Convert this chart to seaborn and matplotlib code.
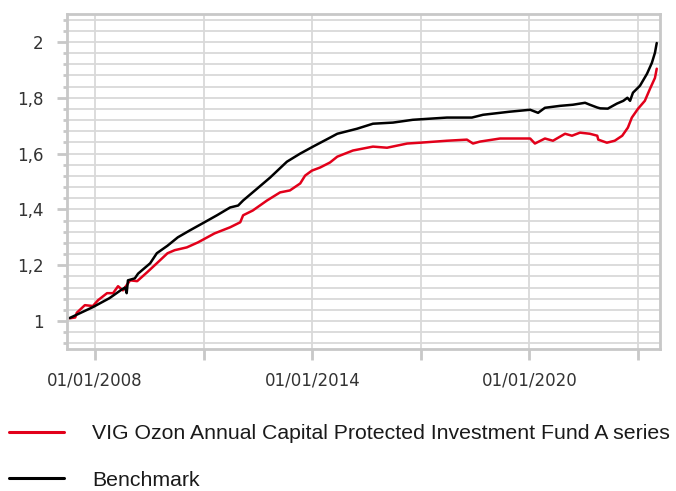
import numpy as np
import pandas as pd
import matplotlib
matplotlib.use("Agg")
import matplotlib.pyplot as plt
import matplotlib.dates as mdates
from matplotlib.ticker import MultipleLocator, FuncFormatter, FixedLocator
import seaborn as sns

# values
fund_dates = ["2007-04-20", "2007-06-15", "2007-07-01", "2007-09-20", "2007-12-10",
              "2008-02-01", "2008-05-01", "2008-07-01", "2008-08-20", "2008-10-08",
              "2008-12-20", "2009-03-01", "2009-06-10", "2009-09-15", "2010-01-01",
              "2010-03-15", "2010-07-15", "2010-11-05", "2011-04-20", "2011-09-25",
              "2012-01-05", "2012-02-03", "2012-05-10", "2012-10-01", "2013-02-10",
              "2013-05-20", "2013-09-01", "2013-10-20", "2013-12-28", "2014-03-20",
              "2014-06-28", "2014-09-10", "2015-02-15", "2015-09-05", "2016-01-25",
              "2016-08-15", "2016-12-25", "2017-09-20", "2018-04-10", "2018-06-10",
              "2018-08-20", "2019-03-10", "2019-06-15", "2020-01-08", "2020-02-25",
              "2020-06-05", "2020-08-25", "2020-12-25", "2021-03-05", "2021-05-25",
              "2021-09-01", "2021-11-15", "2021-11-25", "2022-02-20", "2022-05-10",
              "2022-07-25", "2022-09-20", "2022-10-30", "2023-01-01", "2023-03-10",
              "2023-05-01", "2023-06-20", "2023-07-08"]
fund_values = [1.010, 1.013, 1.030, 1.057, 1.054,
               1.075, 1.100, 1.100, 1.125, 1.110,
               1.146, 1.143, 1.175, 1.207, 1.243,
               1.254, 1.264, 1.282, 1.314, 1.336,
               1.354, 1.379, 1.396, 1.432, 1.461,
               1.468, 1.493, 1.521, 1.539, 1.550,
               1.568, 1.589, 1.611, 1.625, 1.621,
               1.636, 1.639, 1.646, 1.650, 1.636,
               1.643, 1.654, 1.654, 1.654, 1.636,
               1.654, 1.646, 1.671, 1.664, 1.675,
               1.671, 1.664, 1.650, 1.639, 1.646,
               1.664, 1.693, 1.729, 1.761, 1.789,
               1.832, 1.871, 1.904]

bench_dates = ["2007-04-20", "2007-12-10", "2008-05-25", "2008-09-30", "2008-10-30",
               "2008-11-15", "2008-11-28", "2009-02-05", "2009-03-10", "2009-07-10",
               "2009-09-15", "2010-01-01", "2010-04-15", "2010-08-15", "2010-12-20",
               "2011-05-15", "2011-09-25", "2011-12-15", "2012-02-03", "2012-06-25",
               "2012-11-01", "2013-04-20", "2013-09-01", "2014-01-08", "2014-06-28",
               "2014-09-10", "2015-03-28", "2015-09-05", "2016-03-25", "2016-10-10",
               "2017-09-20", "2018-05-30", "2018-09-20", "2019-03-10", "2019-06-15",
               "2020-01-08", "2020-03-28", "2020-06-05", "2020-11-05", "2021-03-15",
               "2021-07-15", "2021-09-01", "2021-11-15", "2021-12-15", "2022-03-01",
               "2022-06-01", "2022-08-05", "2022-09-15", "2022-10-12", "2022-11-10",
               "2023-01-20", "2023-04-01", "2023-05-20", "2023-06-20", "2023-07-08"]
bench_values = [1.011, 1.050, 1.082, 1.114, 1.120,
                1.100, 1.146, 1.153, 1.170, 1.207,
                1.243, 1.270, 1.300, 1.325, 1.350,
                1.379, 1.407, 1.414, 1.432, 1.475,
                1.514, 1.571, 1.600, 1.625, 1.657,
                1.671, 1.689, 1.707, 1.711, 1.721,
                1.729, 1.729, 1.739, 1.746, 1.750,
                1.757, 1.746, 1.764, 1.771, 1.775,
                1.782, 1.775, 1.765, 1.762, 1.761,
                1.779, 1.789, 1.800, 1.789, 1.818,
                1.843, 1.886, 1.925, 1.961, 1.996]

# x gridlines every 3 years, labels only on every other one
tick_dates = ["2008-01-01", "2011-01-01", "2014-01-01", "2017-01-01", "2020-01-01", "2023-01-01"]
tick_labels = ["01/01/2008", "", "01/01/2014", "", "01/01/2020", ""]

fund_name = "VIG Ozon Annual Capital Protected Investment Fund A series"
bench_name = "Benchmark"

df = pd.concat([
    pd.DataFrame({"date": pd.to_datetime(fund_dates), "value": fund_values, "series": fund_name}),
    pd.DataFrame({"date": pd.to_datetime(bench_dates), "value": bench_values, "series": bench_name}),
], ignore_index=True)

sns.set_style("white")
plt.rcParams["font.family"] = ["DejaVu Sans"]
grid_col = "#d9d9d9"
frame_col = "#c8c8c8"
text_col = "#333333"

fig = plt.figure(figsize=(6.76, 4.91), dpi=100)
ax = fig.add_axes([67 / 676, 1 - 349 / 491, (660 - 67) / 676, (349 - 14) / 491])

sns.lineplot(data=df, x="date", y="value", hue="series",
             palette={fund_name: "#e2001a", bench_name: "#000000"},
             hue_order=[fund_name, bench_name],
             linewidth=1.8, ax=ax, legend=False, estimator=None, sort=False)

ax.set_xlim(pd.Timestamp("2007-03-24"), pd.Timestamp("2023-08-10"))
ax.set_ylim(0.9, 2.1)
ax.set_xlabel("")
ax.set_ylabel("")

ax.xaxis.set_major_locator(FixedLocator(mdates.date2num(pd.to_datetime(tick_dates))))
ax.set_xticklabels(tick_labels)
ax.yaxis.set_major_locator(MultipleLocator(0.2))
ax.yaxis.set_minor_locator(MultipleLocator(0.04))
ax.yaxis.set_major_formatter(FuncFormatter(lambda v, p: f"{v:g}".replace(".", ",")))

ax.grid(True, axis="x", which="major", color=grid_col, linewidth=1.3)
ax.grid(True, axis="y", which="both", color=grid_col, linewidth=1.3)
ax.set_axisbelow(True)

for s in ax.spines.values():
    s.set_color(frame_col)
    s.set_linewidth(2)

ax.tick_params(axis="x", which="major", length=8, width=2, color=frame_col,
               labelsize=12, labelcolor=text_col, pad=8, bottom=True)
ax.tick_params(axis="y", which="major", length=7, width=2, color=frame_col,
               labelsize=12, labelcolor=text_col, pad=10, left=True)
ax.tick_params(axis="y", which="minor", length=3, width=2, color=frame_col, left=True)

handles = [plt.Line2D([], [], color="#e2001a", linewidth=2.2),
           plt.Line2D([], [], color="#000000", linewidth=2.2)]
fig.legend(handles, [fund_name, bench_name], loc="upper left",
           bbox_to_anchor=(9 / 676, 1 - 424 / 491), frameon=False,
           prop={"family": "Liberation Sans", "size": 15.3},
           handlelength=2.6, handletextpad=1.3, labelspacing=1.3,
           borderpad=0, borderaxespad=0, labelcolor="#1a1a1a")

fig.savefig("out.png", dpi=100)
